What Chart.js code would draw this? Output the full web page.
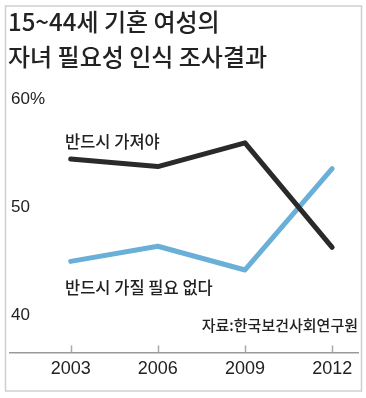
<!DOCTYPE html>
<html>
<head>
<meta charset="utf-8">
<script src="https://cdn.jsdelivr.net/npm/chart.js@4"></script>
<style>
  html, body { margin: 0; padding: 0; background: #fff; }
  #wrap { width: 366px; height: 398px; position: relative; }
</style>
</head>
<body>
<div id="wrap"><canvas id="c" width="366" height="398"></canvas></div>
<script>
const years = [2003, 2006, 2009, 2012];
const mustHave = [54.5, 53.8, 56.0, 46.3];
const notNecessary = [45.0, 46.4, 44.2, 53.6];
const yTickValues = [40, 50, 60];
const titleLines = ['15~44세 기혼 여성의', '자녀 필요성 인식 조사결과'];
const seriesNames = ['반드시 가져야', '반드시 가질 필요 없다'];
const sourceText = '자료:한국보건사회연구원';

const KR = '"Noto Sans CJK KR", "Noto Sans", sans-serif';

const decor = {
  id: 'decor',
  beforeDraw(chart) {
    const ctx = chart.ctx;
    ctx.save();
    ctx.fillStyle = '#fff';
    ctx.fillRect(0, 0, chart.width, chart.height);
    ctx.strokeStyle = '#cfcfcf';
    ctx.lineWidth = 1.5;
    ctx.strokeRect(5.5, 6, 356, 385);
    ctx.restore();
  },
  afterDatasetsDraw(chart) {
    const ctx = chart.ctx;
    const xs = chart.scales.x;
    const ca = chart.chartArea;
    ctx.save();
    ctx.strokeStyle = '#aaaaaa';
    ctx.lineWidth = 1.5;
    years.forEach(y => {
      const px = Math.round(xs.getPixelForValue(y)) + 0.5;
      ctx.beginPath();
      ctx.moveTo(px, ca.bottom - 7);
      ctx.lineTo(px, ca.bottom);
      ctx.stroke();
    });
    ctx.fillStyle = '#222';
    ctx.textBaseline = 'middle';
    ctx.textAlign = 'left';
    ctx.font = '500 16.5px ' + KR;
    ctx.fillText(seriesNames[0], ca.left + 55, 142);
    ctx.fillText(seriesNames[1], ca.left + 55, 288);
    ctx.font = '500 15px ' + KR;
    ctx.textAlign = 'right';
    ctx.fillText(sourceText, ca.right, 325);
    ctx.restore();
  }
};

new Chart(document.getElementById('c'), {
  type: 'line',
  data: {
    datasets: [
      {
        label: seriesNames[0],
        data: years.map((y, i) => ({ x: y, y: mustHave[i] })),
        borderColor: '#2a2a2a',
        borderWidth: 5,
        pointRadius: 0,
        borderCapStyle: 'round',
        borderJoinStyle: 'round',
        tension: 0
      },
      {
        label: seriesNames[1],
        data: years.map((y, i) => ({ x: y, y: notNecessary[i] })),
        borderColor: '#6aafd8',
        borderWidth: 5,
        pointRadius: 0,
        borderCapStyle: 'round',
        borderJoinStyle: 'round',
        tension: 0
      }
    ]
  },
  options: {
    responsive: false,
    animation: false,
    devicePixelRatio: 1,
    layout: { padding: { left: 8, right: 8, top: 4.5, bottom: 12 } },
    plugins: {
      legend: { display: false },
      tooltip: { enabled: false },
      title: {
        display: true,
        text: titleLines,
        align: 'start',
        color: '#222',
        font: { family: KR, size: 24, weight: '500', lineHeight: 1.46 },
        padding: { top: 0, bottom: 15.5 }
      }
    },
    scales: {
      x: {
        type: 'linear',
        min: 2000.91,
        max: 2012.89,
        afterBuildTicks(scale) { scale.ticks = years.map(v => ({ value: v })); },
        grid: { display: false, drawTicks: false },
        border: { display: true, color: '#999', width: 1.5 },
        ticks: {
          padding: 6,
          color: '#222',
          font: { family: '"Liberation Sans", Arial, sans-serif', size: 18 },
          callback: v => String(v)
        }
      },
      y: {
        min: 36.55,
        max: 60.9,
        afterBuildTicks(scale) { scale.ticks = yTickValues.map(v => ({ value: v })); },
        grid: { display: false, drawTicks: false },
        border: { display: false },
        ticks: {
          mirror: true,
          padding: 1,
          color: '#222',
          font: { family: '"Liberation Sans", Arial, sans-serif', size: 17 },
          callback: v => v === 60 ? '60%' : String(v)
        }
      }
    }
  },
  plugins: [decor]
});
</script>
</body>
</html>
